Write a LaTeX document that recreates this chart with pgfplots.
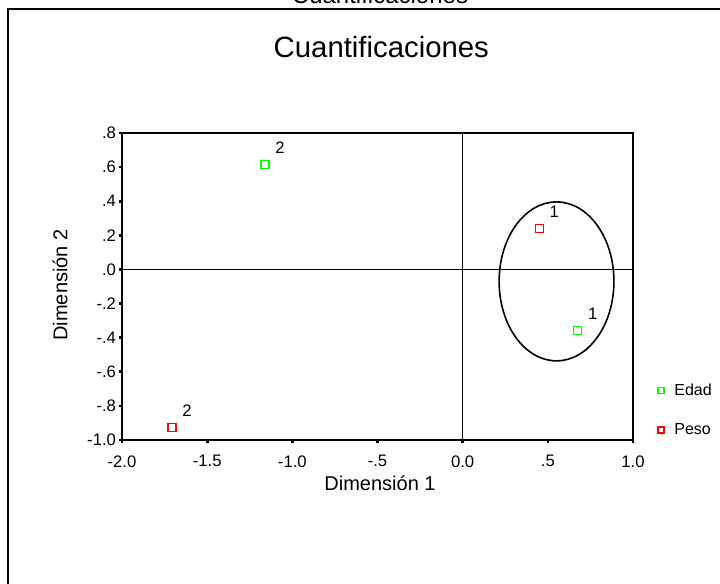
\documentclass[border=0pt]{standalone}
\usepackage{fontspec}
\setmainfont{Liberation Sans}
\usepackage{pgfplots}
\pgfplotsset{compat=1.18}

\definecolor{edad}{RGB}{0,255,0}
\definecolor{peso}{RGB}{255,0,0}

\begin{document}
\begin{tikzpicture}
  % page of 720 x 583 px, 1 px = 0.75pt
  \useasboundingbox (0,0) rectangle (540pt,437.25pt);
  % outer frame (only top and left edges visible)
  \draw[line width=1.5pt] (6pt,-5pt) -- (6pt,430.5pt) -- (545pt,430.5pt);
  % cut-off heading at the very top
  \node[anchor=base, font=\fontsize{18}{20}\selectfont] at (285pt,434.25pt) {Cuantificaciones};
  % chart title
  \node[anchor=base, font=\fontsize{22}{26}\selectfont] at (286pt,393.75pt) {Cuantificaciones};
  % axis labels
  \node[anchor=base, font=\fontsize{15}{18}\selectfont] at (285pt,69.75pt) {Dimensión 1};
  \node[rotate=90, anchor=center, font=\fontsize{15}{18}\selectfont] at (45pt,223.5pt) {Dimensión 2};

  \begin{axis}[
      at={(91.5pt,107.25pt)}, anchor=south west,
      scale only axis,
      width=383.25pt, height=230.25pt,
      xmin=-2.0, xmax=1.0, ymin=-1.0, ymax=0.8,
      axis line style={line width=1pt},
      xtick={-2,-1.5,-1,-0.5,0,0.5,1},
      xticklabels={-2.0,-1.5,-1.0,-.5,0.0,.5,1.0},
      ytick={-1,-0.8,-0.6,-0.4,-0.2,0,0.2,0.4,0.6,0.8},
      yticklabels={-1.0,-.8,-.6,-.4,-.2,.0,.2,.4,.6,.8},
      tick label style={font=\fontsize{12.5}{14}\selectfont},
      xticklabel style={yshift=-5.5pt},
      yticklabel style={xshift=1.5pt},
      xtick pos=bottom, ytick pos=left,
      tick align=outside,
      major tick length=2.5pt,
      tick style={line width=2pt, black},
      clip=false,
      legend style={at={(1.04,0.098)}, anchor=west, draw=none, fill=none,
        font=\fontsize{12}{14}\selectfont, row sep=15.5pt},
      legend cell align=left,
      legend image code/.code={
        \path[draw=none, fill=none] (-2.5pt,-1pt) rectangle (8pt,1pt);
        \draw[#1, mark size=2.25pt] plot coordinates {(0cm,0cm)};},
      nodes near coords,
      point meta=explicit symbolic,
      every node near coord/.append style={anchor=center, xshift=11.25pt, yshift=12.75pt,
        font=\fontsize{12.5}{14}\selectfont, text=black},
    ]
    % reference lines through the origin
    \draw[line width=0.75pt] (axis cs:0,-1.0) -- (axis cs:0,0.8);
    \draw[line width=0.75pt] (axis cs:-2.0,0) -- (axis cs:1.0,0);
    % Edad
    \addplot+[only marks, mark=square, mark size=3pt, draw=edad,
      mark options={line width=1.2pt, draw=edad, fill=none}] table[meta=l] {
      x      y      l
      0.675  -0.358 1
      -1.16  0.616  2
    };
    % Peso
    \addplot+[only marks, mark=square, mark size=3pt, draw=peso,
      mark options={line width=1.2pt, draw=peso, fill=none}] table[meta=l] {
      x      y      l
      0.45   0.24   1
      -1.707 -0.927 2
    };
    \legend{Edad, Peso}
    % circled group
    \draw[line width=1.2pt] (axis cs:0.551,-0.07) ellipse [x radius=0.337, y radius=0.466];
  \end{axis}
\end{tikzpicture}
\end{document}
